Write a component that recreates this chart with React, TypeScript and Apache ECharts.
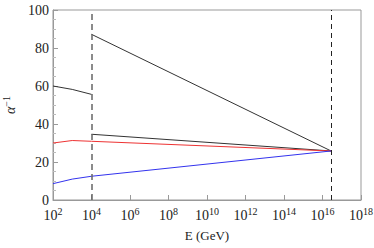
import React, { useEffect, useRef } from "react";
import * as echarts from "echarts";

const E_LOW = [1e2, 1e3, 1e4];
const E_HIGH = [1e4, 2.8e16];
const E_MARKS = [1e4, 2.8e16];

const upperLow = [60, 58.2, 55.6];
const upperHigh = [87.2, 25.8];
const middleHigh = [34.6, 25.8];
const redLow = [30, 31.3, 30.9];
const redHigh = [30.9, 25.8];
const blueLow = [8.6, 11, 12.5];
const blueHigh = [12.5, 25.8];

const pairs = (xs: number[], ys: number[]) => xs.map((x, i) => [x, ys[i]]);

export default function App() {
  const ref = useRef<HTMLDivElement>(null);
  useEffect(() => {
    const chart = echarts.init(ref.current!, undefined, { renderer: "svg" });
    const font = "Liberation Serif";
    const line = (data: number[][], color: string) => ({
      type: "line",
      data,
      showSymbol: false,
      symbol: "none",
      lineStyle: { color, width: 1 },
      z: 3,
    });
    chart.setOption({
      animation: false,
      grid: {
        left: 53, right: 13, top: 10, bottom: 48,
        show: true, borderColor: "#999", borderWidth: 1,
        containLabel: false, outerBoundsMode: "none",
      },
      xAxis: {
        type: "log",
        logBase: 10,
        min: 1e2,
        max: 1e18,
        interval: 2,
        name: "E (GeV)",
        nameLocation: "middle",
        nameGap: 27,
        nameTextStyle: { fontFamily: font, fontSize: 13, color: "#222" },
        axisLine: { lineStyle: { color: "#999" } },
        axisTick: { inside: true, length: 5, lineStyle: { color: "#999" } },
        splitLine: { show: false },
        axisLabel: {
          margin: 6,
          color: "#222",
          fontFamily: font,
          formatter: (v: number) => "{b|10}{s|" + Math.round(Math.log10(v)) + "}",
          rich: {
            b: { fontFamily: font, fontSize: 14, color: "#222", verticalAlign: "bottom", lineHeight: 16 },
            s: { fontFamily: font, fontSize: 10, color: "#222", verticalAlign: "top", lineHeight: 16, padding: [0, 0, 8, 0] },
          },
        },
      },
      yAxis: {
        type: "value",
        min: 0,
        max: 100,
        interval: 20,
        name: "α{s|−1}",
        nameLocation: "middle",
        nameGap: 22,
        nameRotate: 90,
        nameTextStyle: {
          fontFamily: font,
          fontSize: 14,
          fontStyle: "italic",
          color: "#222",
          rich: { s: { fontFamily: font, fontSize: 10, fontStyle: "normal", color: "#222", padding: [0, 0, 8, 0] } },
        },
        axisLine: { show: true, lineStyle: { color: "#999" } },
        axisTick: { inside: true, length: 5, lineStyle: { color: "#999" } },
        minorTick: { show: true, splitNumber: 4, length: 3, lineStyle: { color: "#bbb" } },
        splitLine: { show: false },
        axisLabel: { margin: 4, color: "#222", fontFamily: font, fontSize: 14 },
      },
      series: [
        {
          ...line(pairs(E_LOW, upperLow), "#333"),
          markLine: {
            silent: true,
            symbol: "none",
            label: { show: false },
            data: [
              { xAxis: E_MARKS[0], lineStyle: { color: "#666", type: [6, 4], width: 1.5 } },
              { xAxis: E_MARKS[1], lineStyle: { color: "#222", type: [5, 4], width: 1 } },
            ],
          },
        },
        line(pairs(E_HIGH, upperHigh), "#333"),
        line(pairs(E_HIGH, middleHigh), "#333"),
        line(pairs(E_LOW, redLow), "#ee3333"),
        line(pairs(E_HIGH, redHigh), "#ee3333"),
        line(pairs(E_LOW, blueLow), "#3333ee"),
        line(pairs(E_HIGH, blueHigh), "#3333ee"),
      ],
    });
    return () => chart.dispose();
  }, []);
  return <div ref={ref} style={{ width: 374, height: 248, position: "absolute", left: 0, top: 0 }} />;
}
